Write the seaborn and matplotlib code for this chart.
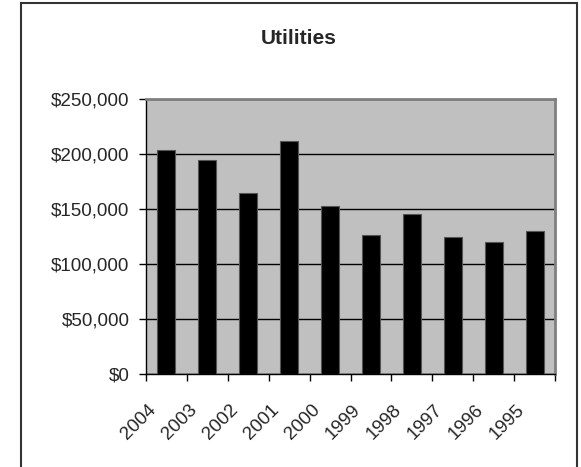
import matplotlib
matplotlib.use("Agg")
import matplotlib.pyplot as plt
import matplotlib.transforms as mtransforms
from matplotlib.patches import Rectangle
from matplotlib.ticker import FuncFormatter, MultipleLocator
import seaborn as sns
import pandas as pd

# -----------------------------
# Datos
# -----------------------------
years = ["2004", "2003", "2002", "2001", "2000", "1999", "1998", "1997", "1996", "1995"]
costs = [204000, 195000, 165000, 211500, 153000, 126000, 145500, 125000, 120000, 130000]
title = "Utilities"

df = pd.DataFrame({"Year": years, "Cost": costs})

sns.set_style("white")
plt.rcParams["font.family"] = ["Liberation Sans", "DejaVu Sans"]

W, H = 581, 467
fig = plt.figure(figsize=(W / 100, H / 100), dpi=100)
ax = fig.add_axes([146 / W, 1 - 374 / H, (555 - 146) / W, (374 - 99) / H])
ax.set_facecolor("#C0C0C0")

sns.barplot(data=df, x="Year", y="Cost", order=years, color="black",
            saturation=1, width=0.44, ax=ax, zorder=3,
            edgecolor="#555555", linewidth=0.8)

# ejes y cuadrícula estilo Excel
ax.set_ylim(0, 250000)
ax.set_xlim(-0.5, len(years) - 0.5)
ax.yaxis.set_major_locator(MultipleLocator(50000))
ax.yaxis.set_major_formatter(FuncFormatter(lambda v, p: f"${v:,.0f}"))
ax.grid(axis="y", color="black", linewidth=1, zorder=1)
ax.set_axisbelow(True)
ax.set_xlabel("")
ax.set_ylabel("")

for side in ["top", "right"]:
    ax.spines[side].set_color("#808080")
    ax.spines[side].set_linewidth(2)
for side in ["left", "bottom"]:
    ax.spines[side].set_color("black")
    ax.spines[side].set_linewidth(1)
    ax.spines[side].set_visible(True)

ax.tick_params(axis="y", direction="out", length=5, width=1, pad=7,
               labelsize=13.5, left=True, color="black")
ax.tick_params(axis="x", which="major", length=0, pad=24, labelsize=13.5)
ax.set_xticks(range(len(years)), years, rotation=45, ha="right", va="center",
              rotation_mode="anchor")
ax.set_xticks([i - 0.5 for i in range(len(years) + 1)], minor=True)
ax.tick_params(axis="x", which="minor", direction="out", length=5, width=1,
               bottom=True, color="black")

offset = mtransforms.ScaledTranslation(-13 / 100, 0, fig.dpi_scale_trans)
for lbl in ax.get_xticklabels():
    lbl.set_transform(lbl.get_transform() + offset)

fig.text(299 / W, 1 - 39 / H, title, ha="center", va="center",
         fontsize=15, fontweight="bold")

# marco exterior del gráfico
fig.patches.append(Rectangle((21 / W, -0.05), (577 - 21) / W, 1.05 - 3 / H,
                             transform=fig.transFigure, fill=False,
                             edgecolor="#333333", linewidth=1.5))

fig.savefig("out.png", dpi=100)
